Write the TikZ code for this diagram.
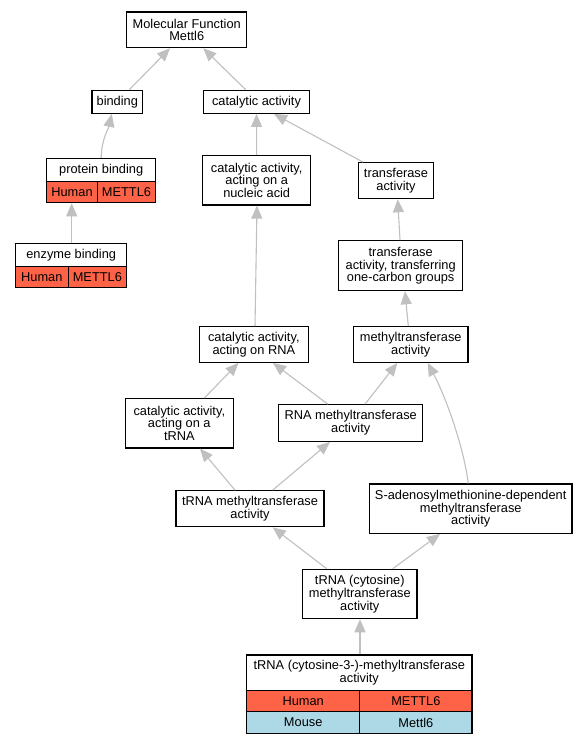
\documentclass[tikz,border=0pt]{standalone}
\usepackage{fontspec}
\setmainfont{Liberation Sans}
\usetikzlibrary{arrows.meta}
\definecolor{edgegray}{HTML}{C0C0C0}
\definecolor{humanred}{HTML}{FF6347}
\definecolor{mouseblue}{HTML}{ADD8E6}
\newcommand{\gofont}{\fontsize{12.8}{12.7}\selectfont}
\begin{document}
\begin{tikzpicture}[x=1pt,y=-1pt,
  gobox/.style={draw=black, line width=1.2pt, inner sep=0pt, align=center, font=\gofont},
  gocell/.style={draw=black, line width=1pt, inner sep=0pt, align=center, font=\gofont},
  frame/.style={draw=black, line width=1.2pt, inner sep=0pt},
  isa/.style={draw=edgegray, line width=1.1pt, -{Triangle[length=13pt,width=11pt]}}]
\useasboundingbox (0,0) rectangle (588,744);
\fill[white] (0,0) rectangle (588,744);

% plain term boxes
\node[gobox, minimum width=120pt, minimum height=35.7pt] (mf) at (186.7,29.8) {Molecular Function\\Mettl6};
\node[gobox, minimum width=50.7pt, minimum height=23pt] (bind) at (117.3,101.8) {binding};
\node[gobox, minimum width=105.6pt, minimum height=23pt] (cat) at (256.5,101.8) {catalytic activity};
\node[gobox, minimum width=108pt, minimum height=49.7pt] (nuc) at (256.7,180.2) {catalytic activity,\\acting on a\\nucleic acid};
\node[gobox, minimum width=74.6pt, minimum height=36pt] (tr) at (396,180.7) {transferase\\activity};
\node[gobox, minimum width=124pt, minimum height=50pt] (oc) at (400.7,265.7) {transferase\\activity, transferring\\one-carbon groups};
\node[gobox, minimum width=109pt, minimum height=35.6pt] (rna) at (253.8,344.5) {catalytic activity,\\acting on RNA};
\node[gobox, minimum width=114.7pt, minimum height=35.6pt] (mt) at (410.7,344.5) {methyltransferase\\activity};
\node[gobox, minimum width=108pt, minimum height=49.3pt] (ctrna) at (179.3,423.3) {catalytic activity,\\acting on a\\tRNA};
\node[gobox, minimum width=144pt, minimum height=36.6pt] (rnam) at (350.7,423) {RNA methyltransferase\\activity};
\node[gobox, minimum width=148pt, minimum height=36pt] (trm) at (250,508.7) {tRNA methyltransferase\\activity};
\node[gobox, minimum width=202.7pt, minimum height=49.3pt] (sam) at (470.7,508.7) {S-adenosylmethionine-dependent\\methyltransferase\\activity};
\node[gobox, minimum width=114.3pt, minimum height=49.3pt] (tcm) at (359.8,594) {tRNA (cytosine)\\methyltransferase\\activity};

% protein binding table
\node[gocell, draw=none, minimum width=109pt, minimum height=22.3pt] (pbh) at (101.2,169.85) {protein binding};
\node[gocell, fill=humanred, minimum width=50.6pt, minimum height=21.7pt] (pbs) at (72,191.85) {Human};
\node[gocell, fill=humanred, minimum width=58.4pt, minimum height=21.7pt] (pbg) at (126.5,191.85) {METTL6};
\node[frame, minimum width=109pt, minimum height=44pt] (pb) at (101.2,180.7) {};

% enzyme binding table
\node[gocell, draw=none, minimum width=111pt, minimum height=22.6pt] (ebh) at (71.2,255) {enzyme binding};
\node[gocell, fill=humanred, minimum width=52.3pt, minimum height=21.4pt] (ebs) at (41.85,277) {Human};
\node[gocell, fill=humanred, minimum width=58.7pt, minimum height=21.4pt] (ebg) at (97.35,277) {METTL6};
\node[frame, minimum width=111pt, minimum height=44pt] (eb) at (71.2,265.7) {};

% bottom table
\node[gocell, draw=none, align=center, minimum width=225.3pt, minimum height=35.7pt] (both) at (359.3,672.85) {tRNA (cytosine-3-)-methyltransferase\\activity};
\node[gocell, fill=humanred, minimum width=113pt, minimum height=21pt] (bhs) at (303.2,701.2) {Human};
\node[gocell, fill=humanred, minimum width=112.3pt, minimum height=21pt] (bhg) at (415.85,701.2) {METTL6};
\node[gocell, fill=mouseblue, minimum width=113pt, minimum height=21.6pt] (bms) at (303.2,722.5) {Mouse};
\node[gocell, fill=mouseblue, minimum width=112.3pt, minimum height=21.6pt] (bmg) at (415.85,722.5) {Mettl6};
\node[frame, minimum width=225.3pt, minimum height=78.3pt] (bot) at (359.3,694.2) {};

% is-a connectors
\draw[isa] ([xshift=12pt]bind.north) -- ([xshift=-16.7pt]mf.south);
\draw[isa] ([xshift=-10.8pt]cat.north) -- ([xshift=16.6pt]mf.south);
\draw[isa] (pb.north) .. controls +(0,-18) and +(-3,14) .. ([xshift=-5.6pt]bind.south);
\draw[isa] ([xshift=0.5pt]eb.north) -- ([xshift=-29.5pt]pb.south);
\draw[isa] (nuc.north) -- (cat.south);
\draw[isa] ([xshift=-33pt]tr.north) -- ([xshift=17.5pt]cat.south);
\draw[isa] ([xshift=-0.7pt]oc.north) -- ([xshift=1.7pt]tr.south);
\draw[isa] ([xshift=-2.4pt]mt.north) -- ([xshift=4.3pt]oc.south);
\draw[isa] ([xshift=1.2pt]rna.north) -- ([xshift=0.3pt]nuc.south);
\draw[isa] ([xshift=25pt]ctrna.north) -- ([xshift=-15.3pt]rna.south);
\draw[isa] ([xshift=-23pt]rnam.north) -- ([xshift=19.2pt]rna.south);
\draw[isa] ([xshift=14.3pt]rnam.north) -- ([xshift=-13.4pt]mt.south);
\draw[isa] ([xshift=-2.4pt]sam.north) .. controls +(-5,-39) and +(17,32) .. ([xshift=17pt]mt.south);
\draw[isa] ([xshift=-15pt]trm.north) -- ([xshift=20.7pt]ctrna.south);
\draw[isa] ([xshift=22.7pt]trm.north) -- ([xshift=-20.7pt]rnam.south);
\draw[isa] ([xshift=-33.1pt]tcm.north) -- ([xshift=22.7pt]trm.south);
\draw[isa] ([xshift=32.9pt]tcm.north) -- ([xshift=-30.7pt]sam.south);
\draw[isa] ([xshift=0.7pt]bot.north) -- ([xshift=0.2pt]tcm.south);
\end{tikzpicture}
\end{document}
